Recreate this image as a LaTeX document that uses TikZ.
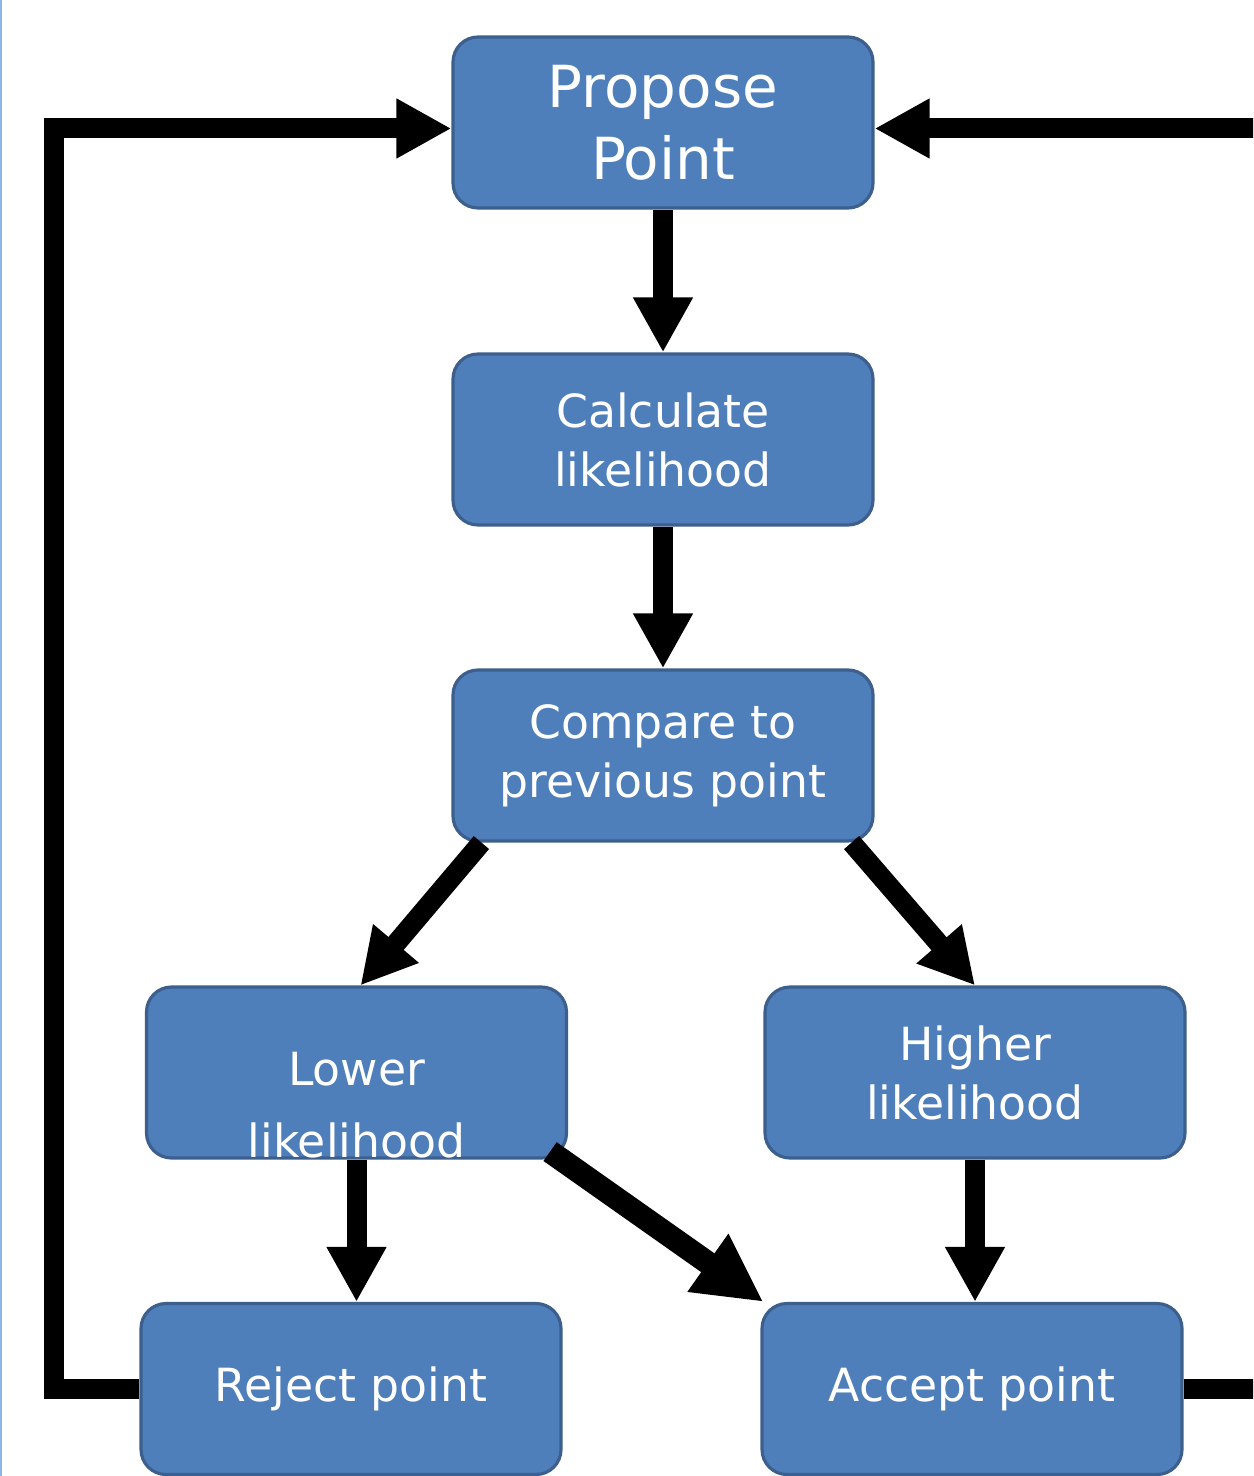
\documentclass[tikz,border=0pt]{standalone}
\usepackage{fontspec}
\setmainfont{DejaVu Sans}
\usetikzlibrary{arrows.meta, positioning, calc}

\definecolor{boxfill}{HTML}{4F7FBA}
\definecolor{boxedge}{HTML}{3C5F8E}
\definecolor{pageedge}{HTML}{8DB6EA}

\tikzset{
  stagebox/.style={rectangle, rounded corners=0.25cm, draw=boxedge, line width=0.9pt,
    fill=boxfill, text=white, minimum width=4.2cm, minimum height=1.71cm,
    inner sep=0pt, align=center, font=\fontsize{13}{16.8}\selectfont},
  flow/.style={line width=0.2cm, -{Triangle[width=0.56cm,length=0.55cm]}},
  bigflow/.style={line width=0.23cm, -{Triangle[width=0.66cm,length=0.68cm]}},
  loop/.style={flow, line join=miter}
}

\begin{document}
\begin{tikzpicture}

% Frame
\useasboundingbox (0,0) rectangle (12.53,-14.76);
\clip (0,0) rectangle (12.53,-14.76);
\fill[white] (0,0) rectangle (12.53,-14.76);
\draw[pageedge, line width=0.02cm] (0.01,0) -- (0.01,-14.76);

% Boxes
\node[stagebox, font=\fontsize{16.5}{20.5}\selectfont] (propose) at (6.63,-1.225) {Propose\\Point};
\node[stagebox] (calc) at (6.63,-4.395) {Calculate\\likelihood};
\node[stagebox] (compare) at (6.63,-7.555) {Compare to\\previous point};
\node[stagebox, label={[text=white, align=center, yshift=-0.33cm,
      font=\fontsize{13}{20.5}\selectfont]center:Lower\\likelihood}] (lower) at (3.565,-10.725) {};
\node[stagebox] (higher) at (9.75,-10.725) {Higher\\likelihood};
\node[stagebox] (reject) at (3.51,-13.89) {Reject point};
\node[stagebox] (accept) at (9.72,-13.89) {Accept point};

% Main flow
\draw[flow] (propose.south) -- (calc.north);
\draw[flow] (calc.south) -- (compare.north);
\draw[flow] ([xshift=0.3cm]compare.south west) -- ([xshift=0.04cm]lower.north);
\draw[flow] ([xshift=-0.23cm]compare.south east) -- (higher.north);
\draw[flow] (lower.south) -- (lower.south |- reject.north);
\draw[flow] (higher.south) -- (higher.south |- accept.north);
\draw[bigflow] ([shift={(-0.18,0.08)}]lower.south east) -- ([xshift=0.03cm]accept.north west);

% Loops back to the top
\draw[loop] (reject.west) -- ++(-0.85,0) |- ([yshift=-0.06cm]propose.west);
\draw[loop] (accept.east) -- ++(0.9,0) |- ([yshift=-0.06cm]propose.east);

\end{tikzpicture}
\end{document}
